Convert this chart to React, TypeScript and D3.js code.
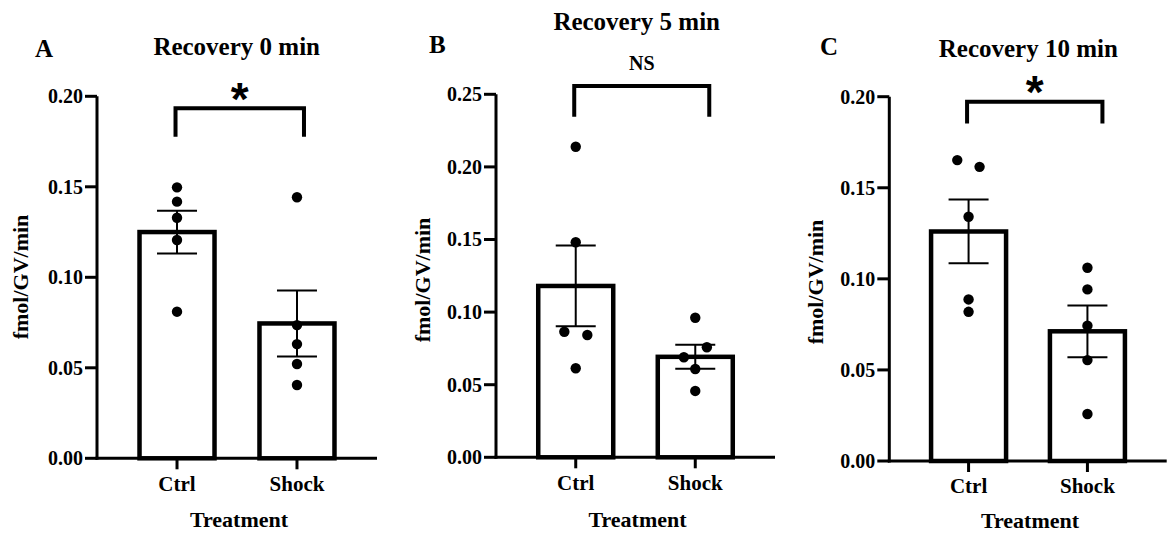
import React from "react";
import * as d3 from "d3";

// Measured rates (fmol/GV/min) for each animal, by recovery time
const categories = ["Ctrl", "Shock"];
const panelLetters = ["A", "B", "C"];
const panelTitles = ["Recovery 0 min", "Recovery 5 min", "Recovery 10 min"];
const significanceLabels = ["*", "NS", "*"];

const ctrl0 = [0.1497, 0.1418, 0.1329, 0.1206, 0.081];
const shock0 = [0.1442, 0.0736, 0.0631, 0.0521, 0.0405];
const ctrl5 = [0.2139, 0.1481, 0.0865, 0.0842, 0.0613];
const shock5 = [0.0961, 0.0758, 0.0689, 0.0608, 0.0457];
const ctrl10 = [0.1652, 0.1615, 0.1341, 0.0887, 0.0819];
const shock10 = [0.1061, 0.0942, 0.0743, 0.0554, 0.0258];

// Group means and standard errors
const barMeans = [
  [0.125, 0.0745],
  [0.118, 0.0692],
  [0.126, 0.0712],
];
const barSems = [
  [0.0118, 0.0182],
  [0.0278, 0.0083],
  [0.0175, 0.0142],
];

// Axis ranges and ticks
const yMaxima = [0.2, 0.25, 0.2];
const yTicks0 = [0, 0.05, 0.1, 0.15, 0.2];
const yTicks5 = [0, 0.05, 0.1, 0.15, 0.2, 0.25];
const yTicks10 = [0, 0.05, 0.1, 0.15, 0.2];

// Comparison bracket: [bar level, leg end]
const bracketLevels = [
  [0.1934, 0.1777],
  [0.2557, 0.2346],
  [0.1972, 0.1853],
];

const pointsByPanel = [
  [ctrl0, shock0],
  [ctrl5, shock5],
  [ctrl10, shock10],
];
const ticksByPanel = [yTicks0, yTicks5, yTicks10];

// ---- Layout ----
const layout = [
  { left: 97, right: 377, bottom: 458.3, top: 96.3, titleX: 236.7, titleY: 55, letterX: 35, letterY: 56.5, ylabelX: 28, ylabelY: 277, bracketRightExtra: 7, xlabY: 490.5, treatY: 527 },
  { left: 496, right: 775, bottom: 457.3, top: 94.3, titleX: 636.7, titleY: 29.5, letterX: 429, letterY: 53.3, ylabelX: 430, ylabelY: 280, bracketRightExtra: 14, xlabY: 490, treatY: 527 },
  { left: 889.3, right: 1166.7, bottom: 461, top: 96.7, titleX: 1028.3, titleY: 57, letterX: 820, letterY: 55, ylabelX: 823, ylabelY: 282, bracketRightExtra: 15, xlabY: 493, treatY: 528 },
];

// Horizontal spread of overlapping dots, in px
const dotOffsets = [
  [
    [0, 0, 0, 0, 0],
    [0, 0, 0, 0, 0],
  ],
  [
    [0, 0, -11.4, 11.6, 0],
    [0, 11.6, -11.4, 0, 0],
  ],
  [
    [-11.3, 11, 0, 0, 0],
    [0, 0, 0, 0, 0],
  ],
];

const SERIF = "Liberation Serif";
const SANS = "Liberation Sans";
const BAR_W = 75;
const CAP_W = 40;

function Panel({ i }: { i: number }) {
  const L = layout[i];
  const x = d3
    .scalePoint<string>()
    .domain(categories)
    .range([L.left, L.right])
    .padding(0.667);
  const y = d3.scaleLinear().domain([0, yMaxima[i]]).range([L.bottom, L.top]);
  const ticks = ticksByPanel[i];
  const fmt = d3.format(".2f");

  const x0 = x(categories[0])!;
  const x1 = x(categories[1])!;
  const bx0 = x0 - 1.5;
  const bx1 = x1 + L.bracketRightExtra;
  const [bLevel, bLeg] = bracketLevels[i];
  const bracketPath = `M${bx0},${y(bLeg)}V${y(bLevel)}H${bx1}V${y(bLeg)}`;
  const sig = significanceLabels[i];

  return (
    <g>
      {/* panel letter and title */}
      <text x={L.letterX} y={L.letterY} fontFamily={SERIF} fontWeight="bold" fontSize={25}>
        {panelLetters[i]}
      </text>
      <text x={L.titleX} y={L.titleY} textAnchor="middle" fontFamily={SERIF} fontWeight="bold" fontSize={25}>
        {panelTitles[i]}
      </text>

      {/* bars */}
      {categories.map((c, k) => {
        const cx = x(c)!;
        const m = barMeans[i][k];
        return (
          <rect
            key={"bar" + c}
            x={cx - BAR_W / 2}
            y={y(m)}
            width={BAR_W}
            height={y(0) - y(m)}
            fill="#fff"
            stroke="#000"
            strokeWidth={4.5}
          />
        );
      })}

      {/* error bars (mean ± SEM) */}
      {categories.map((c, k) => {
        const cx = x(c)!;
        const m = barMeans[i][k];
        const s = barSems[i][k];
        const hi = y(m + s);
        const lo = y(m - s);
        return (
          <g key={"err" + c} stroke="#000" strokeWidth={2}>
            <line x1={cx} x2={cx} y1={hi} y2={lo} />
            <line x1={cx - CAP_W / 2} x2={cx + CAP_W / 2} y1={hi} y2={hi} />
            <line x1={cx - CAP_W / 2} x2={cx + CAP_W / 2} y1={lo} y2={lo} />
          </g>
        );
      })}

      {/* individual values */}
      {categories.map((c, k) =>
        pointsByPanel[i][k].map((v, j) => (
          <circle
            key={"pt" + c + j}
            cx={x(c)! + dotOffsets[i][k][j]}
            cy={y(v)}
            r={5.2}
            fill="#000"
          />
        ))
      )}

      {/* y axis */}
      <line x1={L.left} x2={L.left} y1={y(yMaxima[i])} y2={y(0) + 1.5} stroke="#000" strokeWidth={3} />
      {ticks.map((t) => (
        <g key={"yt" + t}>
          <line x1={L.left - 12} x2={L.left} y1={y(t)} y2={y(t)} stroke="#000" strokeWidth={3} />
          <text
            x={L.left - 14}
            y={y(t)}
            dy="0.34em"
            textAnchor="end"
            fontFamily={SERIF}
            fontWeight="bold"
            fontSize={20}
          >
            {fmt(t)}
          </text>
        </g>
      ))}

      {/* x axis */}
      <line x1={L.left - 1.5} x2={L.right} y1={y(0)} y2={y(0)} stroke="#000" strokeWidth={3} />
      {categories.map((c) => (
        <g key={"xt" + c}>
          <line x1={x(c)!} x2={x(c)!} y1={y(0)} y2={y(0) + 11} stroke="#000" strokeWidth={3} />
          <text x={x(c)!} y={L.xlabY} textAnchor="middle" fontFamily={SERIF} fontWeight="bold" fontSize={21}>
            {c}
          </text>
        </g>
      ))}

      {/* axis titles */}
      <text x={(x0 + x1) / 2 + 2} y={L.treatY} textAnchor="middle" fontFamily={SERIF} fontWeight="bold" fontSize={22}>
        Treatment
      </text>
      <text
        transform={`translate(${L.ylabelX},${L.ylabelY}) rotate(-90)`}
        textAnchor="middle"
        fontFamily={SERIF}
        fontWeight="bold"
        fontSize={22}
      >
        fmol/GV/min
      </text>

      {/* comparison bracket */}
      <path d={bracketPath} fill="none" stroke="#000" strokeWidth={4} />
      {sig === "*" ? (
        <text
          x={(bx0 + bx1) / 2}
          y={y(bLevel) + 6.5}
          textAnchor="middle"
          fontFamily={SANS}
          fontWeight="bold"
          fontSize={46}
        >
          {sig}
        </text>
      ) : (
        <text
          x={(bx0 + bx1) / 2}
          y={y(bLevel) - 16}
          textAnchor="middle"
          fontFamily={SERIF}
          fontWeight="bold"
          fontSize={20}
        >
          {sig}
        </text>
      )}
    </g>
  );
}

export default function App() {
  return (
    <div style={{ position: "absolute", left: 0, top: 0 }}>
      <svg width={1169} height={535} style={{ display: "block", background: "#fff" }}>
        {[0, 1, 2].map((i) => (
          <Panel key={i} i={i} />
        ))}
      </svg>
    </div>
  );
}
